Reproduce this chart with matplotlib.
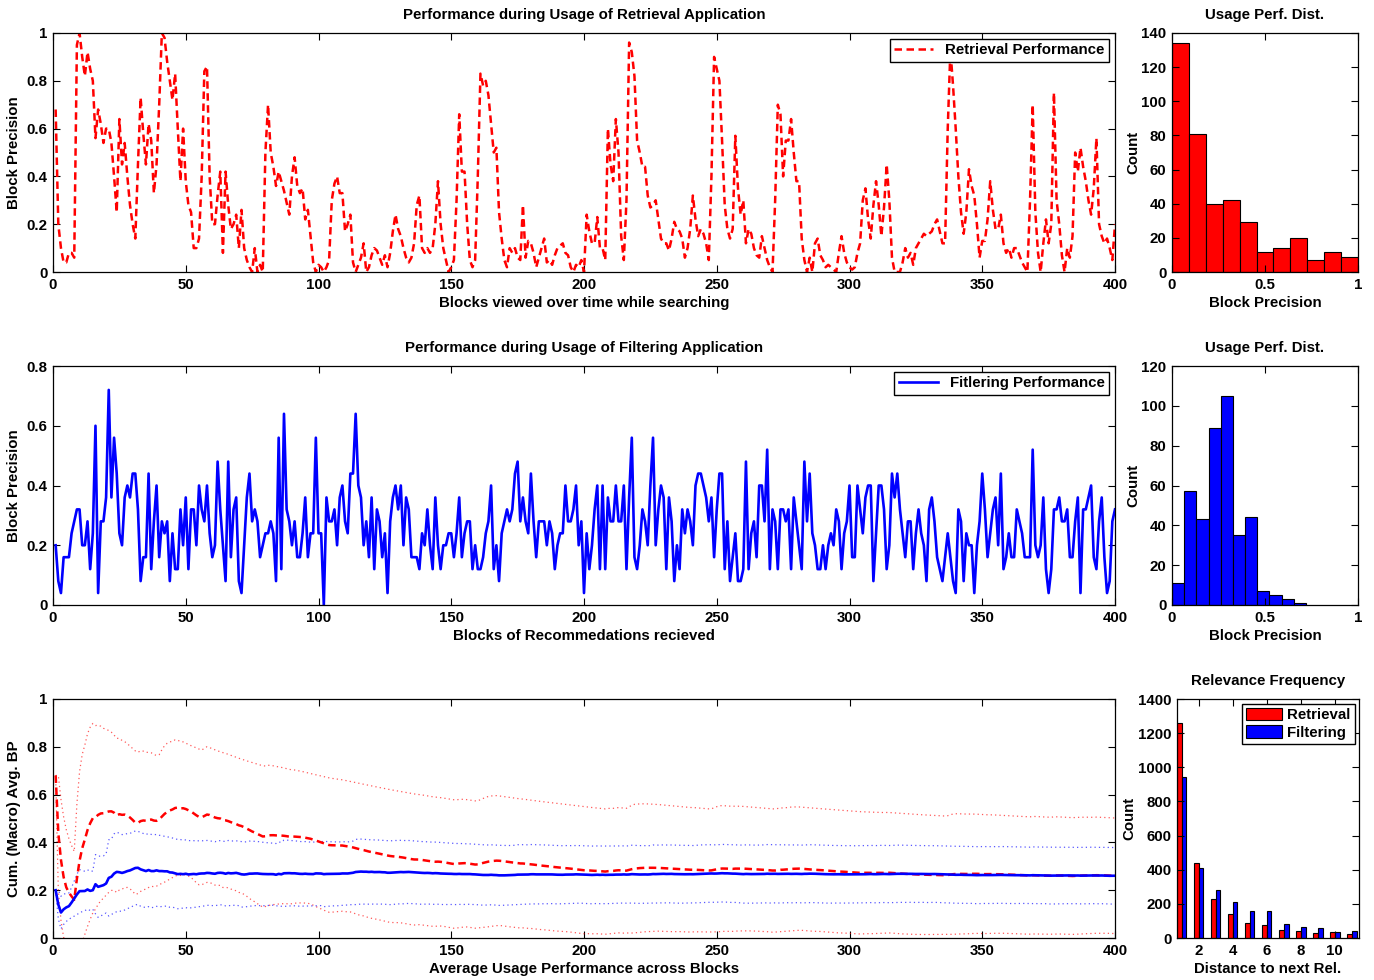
import numpy as np
import matplotlib
matplotlib.use('Agg')
import matplotlib.pyplot as plt

plt.rcParams['font.family'] = ['Liberation Sans', 'DejaVu Sans']
plt.rcParams['font.weight'] = 'bold'
plt.rcParams['font.size'] = 10.8
plt.rcParams['axes.labelweight'] = 'bold'
plt.rcParams['axes.titleweight'] = 'bold'

# block precision of the retrieval application, blocks 1..400
retrieval = [
    0.68, 0.2, 0.1, 0.04, 0.04, 0.08, 0.08, 0.06, 0.95, 1.0,
    0.9, 0.82, 0.92, 0.85, 0.8, 0.56, 0.68, 0.62, 0.54, 0.6,
    0.6, 0.54, 0.4, 0.25, 0.64, 0.45, 0.54, 0.4, 0.28, 0.2,
    0.14, 0.45, 0.73, 0.58, 0.45, 0.62, 0.55, 0.33, 0.45, 0.7,
    1.0, 0.98, 0.88, 0.8, 0.72, 0.83, 0.6, 0.38, 0.6, 0.38,
    0.28, 0.25, 0.1, 0.1, 0.14, 0.4, 0.84, 0.86, 0.4, 0.2,
    0.2, 0.32, 0.42, 0.08, 0.42, 0.28, 0.18, 0.2, 0.24, 0.1,
    0.26, 0.1, 0.05, 0.02, 0.0, 0.1, 0.0, 0.03, 0.0, 0.5,
    0.7, 0.5, 0.44, 0.36, 0.42, 0.38, 0.34, 0.29, 0.24, 0.4,
    0.48, 0.36, 0.33, 0.35, 0.22, 0.26, 0.15, 0.04, 0.0, 0.03,
    0.02, 0.0, 0.02, 0.05, 0.3, 0.37, 0.4, 0.33, 0.33, 0.17,
    0.2, 0.24, 0.04, 0.0, 0.03, 0.06, 0.12, 0.0, 0.02, 0.07,
    0.1, 0.09, 0.06, 0.03, 0.07, 0.02, 0.08, 0.17, 0.24, 0.18,
    0.15, 0.1, 0.06, 0.04, 0.06, 0.12, 0.28, 0.32, 0.1, 0.08,
    0.1, 0.08, 0.1, 0.2, 0.38, 0.2, 0.1, 0.05, 0.0, 0.02,
    0.05, 0.3, 0.66, 0.42, 0.42, 0.2, 0.05, 0.02, 0.05, 0.4,
    0.83, 0.78, 0.8, 0.74, 0.62, 0.5, 0.52, 0.25, 0.14, 0.05,
    0.02, 0.1, 0.08, 0.1, 0.06, 0.05, 0.28, 0.06, 0.13, 0.12,
    0.08, 0.02, 0.06, 0.1, 0.14, 0.04, 0.05, 0.03, 0.07, 0.1,
    0.11, 0.12, 0.08, 0.07, 0.02, 0.0, 0.03, 0.02, 0.05, 0.0,
    0.24, 0.17, 0.12, 0.12, 0.23, 0.1, 0.1, 0.05, 0.6, 0.45,
    0.38, 0.64, 0.5, 0.15, 0.05, 0.3, 0.96, 0.92, 0.82, 0.55,
    0.5, 0.44, 0.44, 0.32, 0.27, 0.28, 0.3, 0.22, 0.14, 0.12,
    0.12, 0.09, 0.14, 0.21, 0.18, 0.17, 0.14, 0.06, 0.1, 0.18,
    0.32, 0.22, 0.15, 0.18, 0.16, 0.12, 0.05, 0.4, 0.9, 0.85,
    0.8, 0.55, 0.28, 0.18, 0.14, 0.18, 0.57, 0.35, 0.24, 0.3,
    0.12, 0.18, 0.16, 0.1, 0.07, 0.06, 0.15, 0.1, 0.05, 0.02,
    0.0, 0.3, 0.7, 0.66, 0.4, 0.55, 0.55, 0.64, 0.5, 0.38,
    0.38, 0.14, 0.05, 0.0, 0.06, 0.0, 0.12, 0.14, 0.07, 0.05,
    0.02, 0.03, 0.02, 0.01, 0.0, 0.08, 0.15, 0.08, 0.04, 0.02,
    0.01, 0.02, 0.08, 0.12, 0.3, 0.35, 0.22, 0.14, 0.28, 0.38,
    0.28, 0.15, 0.27, 0.45, 0.3, 0.06, 0.0, 0.0, 0.0, 0.04,
    0.1, 0.06, 0.08, 0.03, 0.1, 0.12, 0.14, 0.16, 0.15, 0.16,
    0.17, 0.2, 0.22, 0.17, 0.12, 0.12, 0.6, 0.93, 0.78, 0.6,
    0.4, 0.25, 0.16, 0.25, 0.43, 0.36, 0.32, 0.2, 0.06, 0.13,
    0.13, 0.22, 0.38, 0.26, 0.18, 0.18, 0.24, 0.12, 0.08, 0.1,
    0.06, 0.1, 0.1, 0.07, 0.04, 0.02, 0.0, 0.3, 0.7, 0.25,
    0.08, 0.0, 0.12, 0.22, 0.12, 0.2, 0.75, 0.3, 0.2, 0.07,
    0.0, 0.1, 0.06, 0.15, 0.5, 0.42, 0.52, 0.44, 0.38, 0.3,
    0.24, 0.35, 0.56, 0.2, 0.15, 0.12, 0.14, 0.1, 0.05, 0.2,
]

# block precision of the filtering application, blocks 1..400
filtering = [
    0.2, 0.08, 0.04, 0.16, 0.16, 0.16, 0.24, 0.28, 0.32, 0.32,
    0.2, 0.2, 0.28, 0.12, 0.24, 0.6, 0.04, 0.28, 0.28, 0.36,
    0.72, 0.36, 0.56, 0.44, 0.24, 0.2, 0.36, 0.4, 0.36, 0.44,
    0.44, 0.32, 0.08, 0.16, 0.16, 0.44, 0.12, 0.28, 0.4, 0.16,
    0.28, 0.24, 0.28, 0.08, 0.24, 0.12, 0.12, 0.32, 0.2, 0.36,
    0.12, 0.32, 0.32, 0.2, 0.4, 0.32, 0.28, 0.4, 0.24, 0.16,
    0.2, 0.48, 0.32, 0.2, 0.08, 0.48, 0.16, 0.32, 0.36, 0.08,
    0.04, 0.2, 0.36, 0.44, 0.28, 0.32, 0.28, 0.16, 0.2, 0.24,
    0.24, 0.28, 0.24, 0.08, 0.56, 0.12, 0.64, 0.32, 0.28, 0.2,
    0.28, 0.16, 0.16, 0.24, 0.36, 0.16, 0.24, 0.24, 0.56, 0.24,
    0.24, 0.0, 0.36, 0.28, 0.28, 0.32, 0.2, 0.36, 0.4, 0.28,
    0.24, 0.44, 0.44, 0.64, 0.4, 0.36, 0.2, 0.28, 0.16, 0.36,
    0.12, 0.32, 0.28, 0.16, 0.24, 0.04, 0.28, 0.36, 0.4, 0.32,
    0.4, 0.2, 0.36, 0.32, 0.16, 0.16, 0.16, 0.12, 0.24, 0.2,
    0.32, 0.2, 0.12, 0.36, 0.2, 0.12, 0.2, 0.2, 0.24, 0.24,
    0.16, 0.24, 0.36, 0.16, 0.24, 0.28, 0.28, 0.12, 0.2, 0.12,
    0.12, 0.16, 0.24, 0.28, 0.4, 0.12, 0.2, 0.08, 0.24, 0.28,
    0.32, 0.28, 0.32, 0.44, 0.48, 0.28, 0.36, 0.28, 0.24, 0.44,
    0.28, 0.16, 0.28, 0.28, 0.28, 0.2, 0.28, 0.24, 0.12, 0.2,
    0.24, 0.24, 0.4, 0.28, 0.28, 0.32, 0.4, 0.2, 0.28, 0.04,
    0.24, 0.12, 0.2, 0.32, 0.4, 0.12, 0.4, 0.12, 0.36, 0.28,
    0.28, 0.4, 0.28, 0.28, 0.4, 0.12, 0.36, 0.56, 0.16, 0.12,
    0.2, 0.32, 0.28, 0.2, 0.4, 0.56, 0.2, 0.32, 0.4, 0.36,
    0.12, 0.36, 0.28, 0.08, 0.2, 0.12, 0.32, 0.24, 0.32, 0.28,
    0.2, 0.4, 0.44, 0.44, 0.4, 0.36, 0.28, 0.36, 0.16, 0.32,
    0.44, 0.44, 0.12, 0.28, 0.08, 0.16, 0.24, 0.08, 0.08, 0.12,
    0.48, 0.12, 0.24, 0.28, 0.16, 0.4, 0.4, 0.28, 0.52, 0.12,
    0.32, 0.28, 0.12, 0.32, 0.32, 0.28, 0.32, 0.12, 0.36, 0.28,
    0.2, 0.12, 0.48, 0.28, 0.44, 0.24, 0.2, 0.12, 0.12, 0.2,
    0.12, 0.2, 0.24, 0.2, 0.32, 0.28, 0.12, 0.24, 0.28, 0.4,
    0.16, 0.16, 0.4, 0.32, 0.24, 0.36, 0.4, 0.4, 0.08, 0.24,
    0.4, 0.4, 0.32, 0.12, 0.2, 0.44, 0.36, 0.44, 0.32, 0.24,
    0.16, 0.28, 0.28, 0.12, 0.24, 0.32, 0.24, 0.2, 0.08, 0.32,
    0.36, 0.28, 0.16, 0.12, 0.08, 0.16, 0.24, 0.16, 0.08, 0.04,
    0.32, 0.28, 0.08, 0.24, 0.2, 0.2, 0.04, 0.2, 0.28, 0.44,
    0.32, 0.16, 0.24, 0.32, 0.36, 0.2, 0.44, 0.12, 0.16, 0.24,
    0.16, 0.16, 0.32, 0.28, 0.24, 0.16, 0.16, 0.16, 0.52, 0.2,
    0.16, 0.2, 0.36, 0.12, 0.04, 0.12, 0.32, 0.32, 0.36, 0.28,
    0.28, 0.32, 0.16, 0.16, 0.28, 0.36, 0.04, 0.32, 0.32, 0.36,
    0.4, 0.16, 0.12, 0.28, 0.36, 0.16, 0.04, 0.08, 0.28, 0.32,
]

# histogram counts (11 bins)
retr_hist_counts = [134, 81, 40, 42, 29, 12, 14, 20, 7, 12, 9]
retr_hist_range = (0.0, 1.0)
filt_hist_counts = [11, 57, 43, 89, 105, 35, 44, 7, 5, 3, 1]
filt_hist_range = (0.0, 0.72)

# distance to next relevant block
distance = [1, 2, 3, 4, 5, 6, 7, 8, 9, 10, 11]
rel_freq_retrieval = [1257, 437, 229, 143, 88, 74, 49, 39, 27, 37, 25]
rel_freq_filtering = [944, 411, 284, 211, 157, 161, 80, 65, 57, 37, 39]

W, H = 1374, 980
fig = plt.figure(figsize=(W / 100, H / 100), dpi=100)


def px_axes(left, top, right, bottom):
    return fig.add_axes([left / W, 1 - bottom / H, (right - left) / W, (bottom - top) / H])


def matlab_style(ax):
    ax.tick_params(direction='in', top=True, right=True, length=5, width=0.8, pad=4)
    for s in ax.spines.values():
        s.set_linewidth(0.9)


def fmt(v):
    return ('%g' % v)


blocks = np.arange(1, len(retrieval) + 1)
xt = np.arange(0, 401, 50)

# ---- top: retrieval
ax1 = px_axes(53, 33, 1115, 272)
ax1.plot(blocks, retrieval, color='red', lw=1.8, dashes=(3, 1.8), label='Retrieval Performance')
ax1.set_xlim(0, 400)
ax1.set_ylim(0, 1)
ax1.set_xticks(xt)
ax1.set_yticks(np.arange(0, 1.01, 0.2))
ax1.set_yticklabels([fmt(round(v, 1)) for v in np.arange(0, 1.01, 0.2)])
ax1.set_title('Performance during Usage of Retrieval Application', fontsize=10.8, pad=10)
ax1.set_xlabel('Blocks viewed over time while searching', labelpad=3)
ax1.set_ylabel('Block Precision')
ax1.legend(loc='upper right', fancybox=False, edgecolor='black', framealpha=1,
           handlelength=2.6, borderpad=0.3, borderaxespad=0.4)
matlab_style(ax1)

# ---- top hist
ax2 = px_axes(1172, 33, 1358, 272)
n = len(retr_hist_counts)
w = (retr_hist_range[1] - retr_hist_range[0]) / n
edges = retr_hist_range[0] + w * np.arange(n)
ax2.bar(edges, retr_hist_counts, width=w, align='edge', color='red', edgecolor='black', linewidth=0.8)
ax2.set_xlim(0, 1)
ax2.set_ylim(0, 140)
ax2.set_xticks([0, 0.5, 1])
ax2.set_xticklabels(['0', '0.5', '1'])
ax2.set_yticks(np.arange(0, 141, 20))
ax2.set_title('Usage Perf. Dist.', fontsize=10.8, pad=10)
ax2.set_xlabel('Block Precision', labelpad=3)
ax2.set_ylabel('Count', labelpad=1)
matlab_style(ax2)

# ---- middle: filtering
ax3 = px_axes(53, 366, 1115, 605)
ax3.plot(blocks, filtering, color='blue', lw=1.9, label='Fitlering Performance')
ax3.set_xlim(0, 400)
ax3.set_ylim(0, 0.8)
ax3.set_xticks(xt)
ax3.set_yticks(np.arange(0, 0.81, 0.2))
ax3.set_yticklabels([fmt(round(v, 1)) for v in np.arange(0, 0.81, 0.2)])
ax3.set_title('Performance during Usage of Filtering Application', fontsize=10.8, pad=10)
ax3.set_xlabel('Blocks of Recommedations recieved', labelpad=3)
ax3.set_ylabel('Block Precision')
ax3.legend(loc='upper right', fancybox=False, edgecolor='black', framealpha=1,
           handlelength=2.6, borderpad=0.3, borderaxespad=0.4)
matlab_style(ax3)

# ---- middle hist
ax4 = px_axes(1172, 366, 1358, 605)
n = len(filt_hist_counts)
w = (filt_hist_range[1] - filt_hist_range[0]) / n
edges = filt_hist_range[0] + w * np.arange(n)
ax4.bar(edges, filt_hist_counts, width=w, align='edge', color='blue', edgecolor='black', linewidth=0.8)
ax4.set_xlim(0, 1)
ax4.set_ylim(0, 120)
ax4.set_xticks([0, 0.5, 1])
ax4.set_xticklabels(['0', '0.5', '1'])
ax4.set_yticks(np.arange(0, 121, 20))
ax4.set_title('Usage Perf. Dist.', fontsize=10.8, pad=10)
ax4.set_xlabel('Block Precision', labelpad=3)
ax4.set_ylabel('Count', labelpad=1)
matlab_style(ax4)

# ---- bottom: cumulative average +- std
r = np.array(retrieval)
f = np.array(filtering)
k = np.arange(1, len(r) + 1)
r_mean = np.cumsum(r) / k
r_std = np.sqrt(np.maximum(np.cumsum(r ** 2) / k - r_mean ** 2, 0))
f_mean = np.cumsum(f) / k
f_std = np.sqrt(np.maximum(np.cumsum(f ** 2) / k - f_mean ** 2, 0))

ax5 = px_axes(53, 699, 1115, 938)
ax5.plot(k, r_mean + r_std, color='red', lw=0.9, ls=(0, (1, 2.5)), alpha=0.65)
ax5.plot(k, r_mean - r_std, color='red', lw=0.9, ls=(0, (1, 2.5)), alpha=0.65)
ax5.plot(k, f_mean + f_std, color='blue', lw=0.9, ls=(0, (1, 2.5)), alpha=0.65)
ax5.plot(k, f_mean - f_std, color='blue', lw=0.9, ls=(0, (1, 2.5)), alpha=0.65)
ax5.plot(k, r_mean, color='red', lw=1.8, dashes=(3, 1.8))
ax5.plot(k, f_mean, color='blue', lw=1.9)
ax5.set_xlim(0, 400)
ax5.set_ylim(0, 1)
ax5.set_xticks(xt)
ax5.set_yticks(np.arange(0, 1.01, 0.2))
ax5.set_yticklabels([fmt(round(v, 1)) for v in np.arange(0, 1.01, 0.2)])
ax5.set_xlabel('Average Usage Performance across Blocks', labelpad=3)
ax5.set_ylabel('Cum. (Macro) Avg. BP')
matlab_style(ax5)

# ---- bottom hist: relevance frequency
ax6 = px_axes(1177, 699, 1359, 938)
d = np.array(distance)
bw = 0.28
ax6.bar(d - bw / 2, rel_freq_retrieval, width=bw, color='red', edgecolor='black', linewidth=0.8, label='Retrieval')
ax6.bar(d + bw / 2, rel_freq_filtering, width=bw, color='blue', edgecolor='black', linewidth=0.8, label='Filtering')
ax6.set_xlim(0.73, 11.42)
ax6.set_ylim(0, 1400)
ax6.set_xticks([2, 4, 6, 8, 10])
ax6.set_yticks(np.arange(0, 1401, 200))
ax6.set_title('Relevance Frequency', fontsize=10.8, pad=10)
ax6.set_xlabel('Distance to next Rel.', labelpad=3)
ax6.set_ylabel('Count', labelpad=1)
ax6.legend(loc='upper right', fancybox=False, edgecolor='black', framealpha=1,
           handlelength=2.4, handleheight=0.9, borderpad=0.3, borderaxespad=0.3,
           labelspacing=0.2, handletextpad=0.3)
matlab_style(ax6)

fig.savefig('out.png', dpi=100)
